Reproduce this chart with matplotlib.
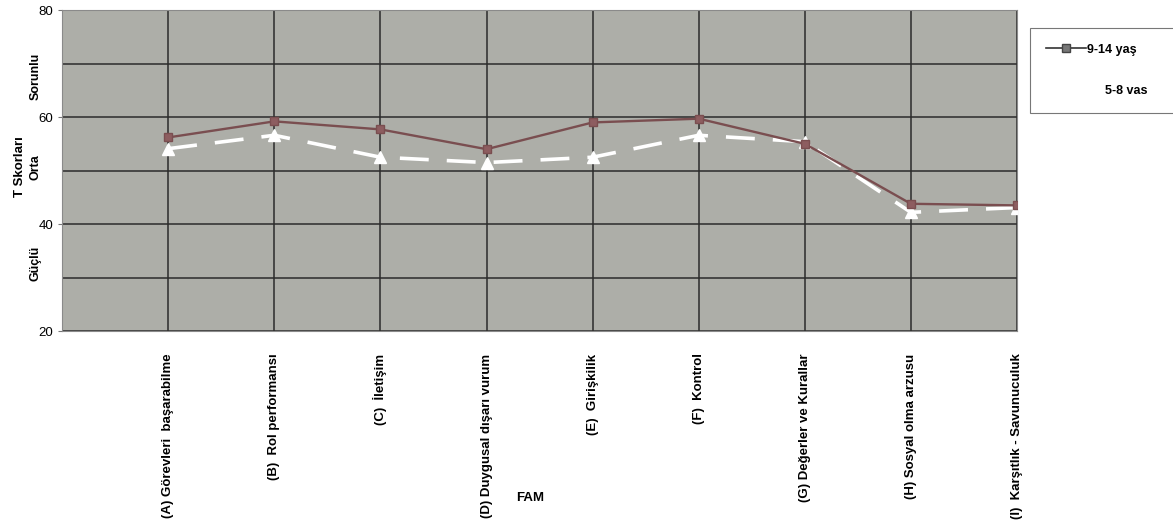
import matplotlib.pyplot as plt
from matplotlib.lines import Line2D

plt.rcParams['font.family'] = ['Liberation Sans', 'DejaVu Sans']

categories = ["(A) Görevleri  başarabilme", "(B)  Rol performansı", "(C)  İletişim",
              "(D) Duygusal dışarı vurum", "(E)  Girişkilik", "(F)  Kontrol",
              "(G) Değerler ve Kurallar", "(H) Sosyal olma arzusu",
              "(I)  Karşıtlık - Savunuculuk"]
older = [56.2, 59.2, 57.7, 54.0, 59.0, 59.7, 55.0, 43.8, 43.5]   # 9-14 yaş
younger = [54.1, 56.6, 52.5, 51.5, 52.5, 56.6, 55.4, 42.2, 43.1]  # 5-8 vas
yticks = [20, 40, 60, 80]

fig = plt.figure(figsize=(11.73, 5.29), dpi=100)
ax = fig.add_axes([0.053, 0.374, 0.814, 0.607])
ax.set_facecolor('#adaea8')

x = list(range(1, len(categories) + 1))
ax.plot(x, older, color='#7a4e50', lw=1.7, marker='s', ms=6,
        markerfacecolor='#8d5d60', markeredgecolor='#7a4e50', zorder=4)
ax.plot(x, younger, color='white', lw=2.6, dashes=(8, 5), marker='^', ms=9,
        markerfacecolor='white', markeredgecolor='white', zorder=3)

ax.set_xlim(0, 9)
ax.set_ylim(20, 80)
ax.set_xticks(x)
ax.set_xticklabels(categories, rotation=90, fontsize=9.5, fontweight='bold')
ax.set_yticks(yticks)
ax.set_yticks([30, 50, 70], minor=True)
ax.tick_params(axis='y', labelsize=9.5, length=3, color='#777777')
ax.tick_params(axis='y', which='minor', length=0)
ax.tick_params(axis='x', length=0, pad=16)
ax.grid(True, which='both', color='#2b2b2b', lw=1.1)
ax.set_axisbelow(True)
for s in ax.spines.values():
    s.set_color('#8a8a8a')
    s.set_linewidth(0.8)

fig.text(0.452, 0.052, 'FAM', fontsize=9.5, fontweight='bold', ha='center')
fig.text(0.017, 0.685, 'T Skorları', fontsize=9.5, fontweight='bold', rotation=90, ha='center', va='center')
fig.text(0.030, 0.855, 'Sorunlu', fontsize=9, fontweight='bold', rotation=90, ha='center', va='center')
fig.text(0.030, 0.685, 'Orta', fontsize=9, fontweight='bold', rotation=90, ha='center', va='center')
fig.text(0.030, 0.503, 'Güçlü', fontsize=9, fontweight='bold', rotation=90, ha='center', va='center')

handles = [Line2D([], [], color='#333333', lw=1.2, marker='s', ms=6,
                  markerfacecolor='#777777', markeredgecolor='#444444'),
           Line2D([], [], color='white', lw=1.2)]
leg = fig.legend(handles, ['9-14 yaş', '5-8 vas'], loc='upper left',
                 bbox_to_anchor=(0.878, 0.78, 0.13, 0.168), mode='expand',
                 fontsize=9, frameon=True, fancybox=False, edgecolor='#555555',
                 borderpad=1.3, labelspacing=2.3, handlelength=3.2,
                 handletextpad=0.1, borderaxespad=0)
leg.get_frame().set_linewidth(0.8)
for t in leg.get_texts():
    t.set_fontweight('bold')
leg.get_texts()[1].set_x(18)

fig.savefig('out.png', dpi=100)
